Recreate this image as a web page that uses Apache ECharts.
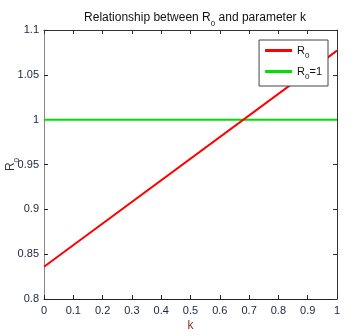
<!DOCTYPE html>
<html>
<head>
<meta charset="utf-8">
<script src="https://cdn.jsdelivr.net/npm/echarts@6/dist/echarts.min.js"></script>
<style>
  html, body { margin: 0; padding: 0; background: #fff; }
  #main { width: 355px; height: 336px; }
</style>
</head>
<body>
<div id="main"></div>
<script>
// k values and R0 at the ends of the line (it is straight)
var kValues = [0, 1];
var r0Values = [0.836, 1.077];
var thresholdValues = [1, 1];
var seriesNames = ['R0', 'R0=1'];

var font = 'Liberation Sans, Arial, sans-serif';
var sub = { fontSize: 8, verticalAlign: 'bottom', padding: [0, 0, -4, 0], fontFamily: font };

function legendLabel(name) {
  return name === 'R0' ? 'R{sub|0}' : 'R{sub|0}{n|=1}';
}

var chart = echarts.init(document.getElementById('main'));

chart.setOption({
  animation: false,
  title: {
    text: 'Relationship between R{sub|0} and parameter k',
    left: 190,
    textAlign: 'center',
    top: 7,
    textStyle: {
      fontFamily: font,
      fontSize: 12,
      fontWeight: 'normal',
      color: '#111',
      rich: {
        sub: Object.assign({ color: '#111' }, sub)
      }
    }
  },
  legend: {
    orient: 'vertical',
    right: 27,
    top: 40,
    data: seriesNames,
    icon: 'rect',
    itemWidth: 27,
    itemHeight: 3,
    itemGap: 6,
    padding: [5, 6, 5, 6],
    borderColor: '#444',
    borderWidth: 1,
    borderRadius: 0,
    backgroundColor: '#fff',
    formatter: legendLabel,
    textStyle: {
      fontFamily: font,
      fontSize: 11,
      color: '#111',
      rich: {
        sub: Object.assign({ color: '#111' }, sub),
        n: { fontSize: 11, fontFamily: font, color: '#111' }
      }
    }
  },
  grid: { left: 44, right: 18, top: 30, bottom: 37, containLabel: false, outerBoundsMode: 'none' },
  xAxis: [{
    type: 'value',
    min: 0,
    max: 1,
    interval: 0.1,
    name: 'k',
    nameLocation: 'middle',
    nameGap: 21,
    nameMoveOverlap: false,
    nameTextStyle: { fontFamily: font, fontSize: 12, color: '#8a2f1e' },
    axisLine: { lineStyle: { color: '#222', width: 1 } },
    axisTick: { inside: true, length: 4, lineStyle: { color: '#222' } },
    axisLabel: { fontFamily: font, fontSize: 11, color: '#1c2240', margin: 6 },
    splitLine: { show: false }
  }, {
    type: 'value',
    position: 'top',
    min: 0,
    max: 1,
    interval: 0.1,
    axisLine: { show: true, onZero: false, lineStyle: { color: '#333', width: 1 } },
    axisTick: { inside: true, length: 4, lineStyle: { color: '#333' } },
    axisLabel: { show: false },
    splitLine: { show: false }
  }],
  yAxis: [{
    type: 'value',
    min: 0.8,
    max: 1.1,
    interval: 0.05,
    name: 'R{sub|0}',
    nameLocation: 'middle',
    nameGap: 27,
    nameMoveOverlap: false,
    nameTextStyle: {
      fontFamily: font,
      fontSize: 12,
      color: '#333',
      rich: { sub: Object.assign({ color: '#333' }, sub) }
    },
    axisLine: { show: true, lineStyle: { color: '#888', width: 1 } },
    axisTick: { show: true, inside: true, length: 4, lineStyle: { color: '#222' } },
    axisLabel: { fontFamily: font, fontSize: 11, color: '#1c2240', margin: 5 },
    splitLine: { show: false }
  }, {
    type: 'value',
    position: 'right',
    min: 0.8,
    max: 1.1,
    interval: 0.05,
    axisLine: { show: true, onZero: false, lineStyle: { color: '#333', width: 1 } },
    axisTick: { show: true, inside: true, length: 4, lineStyle: { color: '#333' } },
    axisLabel: { show: false },
    splitLine: { show: false }
  }],
  series: [{
    name: seriesNames[0],
    type: 'line',
    data: kValues.map(function (k, i) { return [k, r0Values[i]]; }),
    symbol: 'none',
    lineStyle: { color: '#ff0000', width: 2 },
    itemStyle: { color: '#ff0000' },
    z: 3
  }, {
    name: seriesNames[1],
    type: 'line',
    data: kValues.map(function (k, i) { return [k, thresholdValues[i]]; }),
    symbol: 'none',
    lineStyle: { color: '#00e000', width: 2 },
    itemStyle: { color: '#00e000' },
    z: 2
  }]
});
</script>
</body>
</html>
